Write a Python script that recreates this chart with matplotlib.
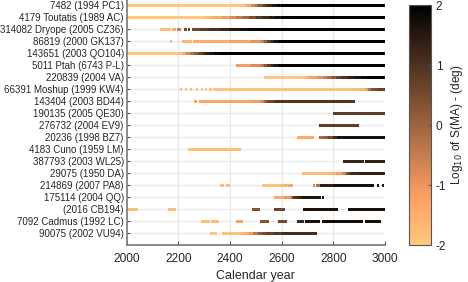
import matplotlib
matplotlib.use("Agg")
import matplotlib.pyplot as plt
import numpy as np
from matplotlib.collections import LineCollection
from matplotlib.colors import Normalize

plt.rcParams['font.family'] = ['Liberation Sans', 'DejaVu Sans']
plt.rcParams['axes.unicode_minus'] = False

row_labels = [
    "7482 (1994 PC1)", "4179 Toutatis (1989 AC)", "314082 Dryope (2005 CZ36)",
    "86819 (2000 GK137)", "143651 (2003 QO104)", "5011 Ptah (6743 P-L)",
    "220839 (2004 VA)", "66391 Moshup (1999 KW4)", "143404 (2003 BD44)",
    "190135 (2005 QE30)", "276732 (2004 EV9)", "20236 (1998 BZ7)",
    "4183 Cuno (1959 LM)", "387793 (2003 WL25)", "29075 (1950 DA)",
    "214869 (2007 PA8)", "175114 (2004 QQ)", "(2016 CB194)",
    "7092 Cadmus (1992 LC)", "90075 (2002 VU94)",
]

# Each row: list of segments; each segment: (year, log10 S(MA)) knots
seg_7482 = [[(2000, -2), (2440, -2), (2460, -1.6), (2480, -1), (2495, -0.5), (2510, 0), (2528, 0.5),
             (2545, 1), (2562, 1.4), (2580, 1.7), (2600, 1.9), (2620, 2), (3000, 2)]]
seg_4179 = [[(2000, -2), (2300, -2), (2320, -1.7), (2340, -1.5), (2370, -1.2), (2400, -1), (2425, -0.6),
             (2450, -0.3), (2475, 0.2), (2500, 0.7), (2525, 1), (2550, 1.3), (2575, 1.6),
             (2600, 1.8), (2650, 2), (3000, 2)]]
seg_314082 = [[(2129, -1.8), (2146, -1.8)], [(2148, -1.8), (2168, -1.8)], [(2174, -1.4), (2187, -1.4)],
              [(2194, -0.6), (2207, -0.4)], [(2223, 0.5), (2229, 0.5)], [(2236, 0.7), (2241, 0.7)],
              [(2252, 0.4), (2285, 0.7), (2320, 0.9), (2360, 1.2), (2400, 1.4), (2435, 1.6),
               (2470, 1.8), (2520, 2), (3000, 2)]]
seg_86819 = [[(2166, -1.7), (2172, -1.7)], [(2215, -1.6), (2234, -1.6)], [(2236, -1.6), (2248, -1.6)],
             [(2256, -1.5), (2400, -1.3), (2480, -1.1), (2520, -0.8), (2532, -0.2), (2545, 0.5),
              (2558, 1.0), (2570, 1.5), (2585, 1.8), (2600, 2), (3000, 2)]]
seg_143651 = [[(2000, -2), (2205, -2), (2218, -1.5), (2230, -1), (2245, -0.5), (2260, 0), (2275, 0.4),
               (2290, 0.8), (2305, 1.2), (2320, 1.5), (2340, 1.7), (2360, 1.9), (2400, 2), (3000, 2)]]
seg_5011 = [[(2422, -1.2), (2480, -1), (2520, -0.6), (2532, 0), (2545, 0.5), (2558, 1.0),
             (2570, 1.4), (2585, 1.7), (2600, 1.9), (2640, 2), (3000, 2)]]
seg_220839 = [[(2533, -2), (2680, -2), (2695, -1.6), (2710, -1.3), (2735, -1.0), (2760, -0.8),
               (2775, -0.4), (2790, 0), (2810, 0.4), (2830, 0.8), (2855, 1.2), (2880, 1.5),
               (2905, 1.7), (2930, 1.9), (3000, 2)]]
seg_66391 = [[(2207, -1.9), (2212, -1.9)], [(2226, -1.9), (2231, -1.9)], [(2246, -1.9), (2251, -1.9)],
             [(2267, -1.9), (2272, -1.9)], [(2288, -1.9), (2293, -1.9)], [(2303, -1.9), (2308, -1.9)],
             [(2320, -1.9), (2326, -1.9)],
             [(2335, -1.9), (2700, -1.9), (2900, -1.8), (2925, -1.5), (2935, -0.6), (2945, 0.2),
              (2970, 0.6), (3000, 0.7)]]
seg_143404 = [[(2262, -1.2), (2268, -1.2)],
              [(2282, -1.3), (2400, -1.3), (2480, -1.2), (2520, -1), (2532, -0.3), (2545, 0.3),
               (2570, 0.9), (2880, 1)]]
seg_190135 = [[(2800, 0.7), (3000, 0.9)]]
seg_276732 = [[(2744, 0.6), (2896, 0.9)]]
seg_20236 = [[(2658, -1.4), (2709, -1.4)], [(2715, -1.3), (2722, -1.3)],
             [(2744, -0.3), (2762, 0), (2780, 0.3), (2800, 0.8), (2815, 1.5), (2840, 1.7), (3000, 1.7)]]
seg_4183 = [[(2239, -1.8), (2439, -1.8)]]
seg_387793 = [[(2838, 1.2), (2916, 1.3)], [(2924, 1.3), (2997, 1.4)]]
seg_29075 = [[(2678, -1.6), (2683, -1.6)],
             [(2687, -1.8), (2780, -1.8), (2810, -1.4), (2835, -1), (2843, -0.5), (2850, 0),
              (2857, 0.5), (2865, 1), (2900, 1.3), (3000, 1.4)]]
seg_214869 = [[(2362, -1.8), (2374, -1.8)], [(2385, -1.8), (2398, -1.8)],
              [(2525, -1.9), (2600, -1.8), (2625, -1.4), (2639, -1.2)],
              [(2720, -0.8), (2726, -0.8)], [(2734, -0.5), (2748, 0)],
              [(2748, 1.2), (2800, 1.6), (2954, 1.7)],
              [(2969, 1.5), (2973, 1.5)], [(2989, 1.5), (2993, 1.5)]]
seg_175114 = [[(2570, -1.5), (2610, -1.3), (2635, -0.8), (2645, 0.8), (2662, 1.2), (2680, 1.5), (2748, 1.7)],
              [(2756, 1.7), (2761, 1.7)]]
seg_2016CB194 = [[(2004, -1.8), (2041, -1.8)], [(2159, -1.8), (2187, -1.8)], [(2487, 0.3), (2514, 0.4)],
                 [(2569, 0.6), (2610, 0.6)], [(2682, 1.6), (2812, 1.7)], [(2855, 1.6), (2997, 1.7)]]
seg_7092 = [[(2287, -1.8), (2318, -1.8)], [(2325, -1.8), (2355, -1.8)], [(2422, -1.3), (2448, -1.2)],
            [(2516, 0.3), (2547, 0.4)], [(2587, 0.5), (2617, 0.6)], [(2658, 1.2), (2684, 1.3)],
            [(2692, 1.6), (2744, 1.7)], [(2755, 1.7), (2909, 1.8)], [(2922, 1.7), (2980, 1.7)]]
seg_90075 = [[(2322, -1.9), (2346, -1.9)],
             [(2368, -1.9), (2440, -1.8), (2455, -1.6), (2470, -1.4), (2490, -0.8), (2510, 0),
              (2525, 0.3), (2540, 0.6), (2570, 0.8), (2600, 1), (2731, 1.2)]]

rows = [seg_7482, seg_4179, seg_314082, seg_86819, seg_143651, seg_5011, seg_220839,
        seg_66391, seg_143404, seg_190135, seg_276732, seg_20236, seg_4183, seg_387793,
        seg_29075, seg_214869, seg_175114, seg_2016CB194, seg_7092, seg_90075]

x_ticks = [2000, 2200, 2400, 2600, 2800, 3000]
cbar_ticks = [-2, -1, 0, 1, 2]

cmap = plt.get_cmap('copper_r')
norm = Normalize(vmin=-2, vmax=2)

fig = plt.figure(figsize=(4.68, 2.82), dpi=100)
ax = fig.add_axes([126.6 / 468, 37 / 282, 258.5 / 468, 245 / 282])

grid_c = '#e8e8e8'
for xt in x_ticks[1:-1]:
    ax.axvline(xt, color=grid_c, lw=0.9, zorder=0)
for i in range(len(row_labels)):
    ax.axhline(i + 1, color=grid_c, lw=0.9, zorder=0)

segs, vals = [], []
for i, row in enumerate(rows):
    y = i + 1
    for seg in row:
        for (x0, v0), (x1, v1) in zip(seg[:-1], seg[1:]):
            segs.append([(x0, y), (x1, y)])
            vals.append((v0 + v1) / 2)
lc = LineCollection(segs, cmap=cmap, norm=norm, linewidths=2.0, capstyle='butt',
                    antialiaseds=False, zorder=2)
lc.set_array(np.array(vals))
ax.add_collection(lc)

ax.set_xlim(2000, 3000)
ax.set_ylim(21, 0.58)
ax.set_xticks(x_ticks)
ax.set_yticks(range(1, len(row_labels) + 1))
ax.set_yticklabels(row_labels, fontsize=7)
ax.tick_params(axis='x', labelsize=8.6, direction='in', length=3, color='#555555', pad=6)
ax.tick_params(axis='y', direction='in', length=2.5, color='#555555', pad=2)
for s in ['top', 'right']:
    ax.spines[s].set_visible(False)
for s in ['left', 'bottom']:
    ax.spines[s].set_color('#777777')
    ax.spines[s].set_linewidth(1.2)
ax.set_xlabel('Calendar year', fontsize=9, color='#262626', labelpad=3)
for t in ax.get_xticklabels() + ax.get_yticklabels():
    t.set_color('#262626')

cax = fig.add_axes([409 / 468, 37 / 282, 22 / 468, 240 / 282])
sm = plt.cm.ScalarMappable(norm=norm, cmap=cmap)
cb = fig.colorbar(sm, cax=cax, ticks=cbar_ticks)
cb.ax.tick_params(direction='in', length=2.5, labelsize=8.6, color='#555555', labelcolor='#262626')
cb.outline.set_edgecolor('#555555')
cb.outline.set_linewidth(0.8)
cb.set_label('Log$_{10}$ of S(MA) - (deg)', fontsize=8.6, color='#262626', labelpad=2)

fig.savefig('out.png', dpi=100)
